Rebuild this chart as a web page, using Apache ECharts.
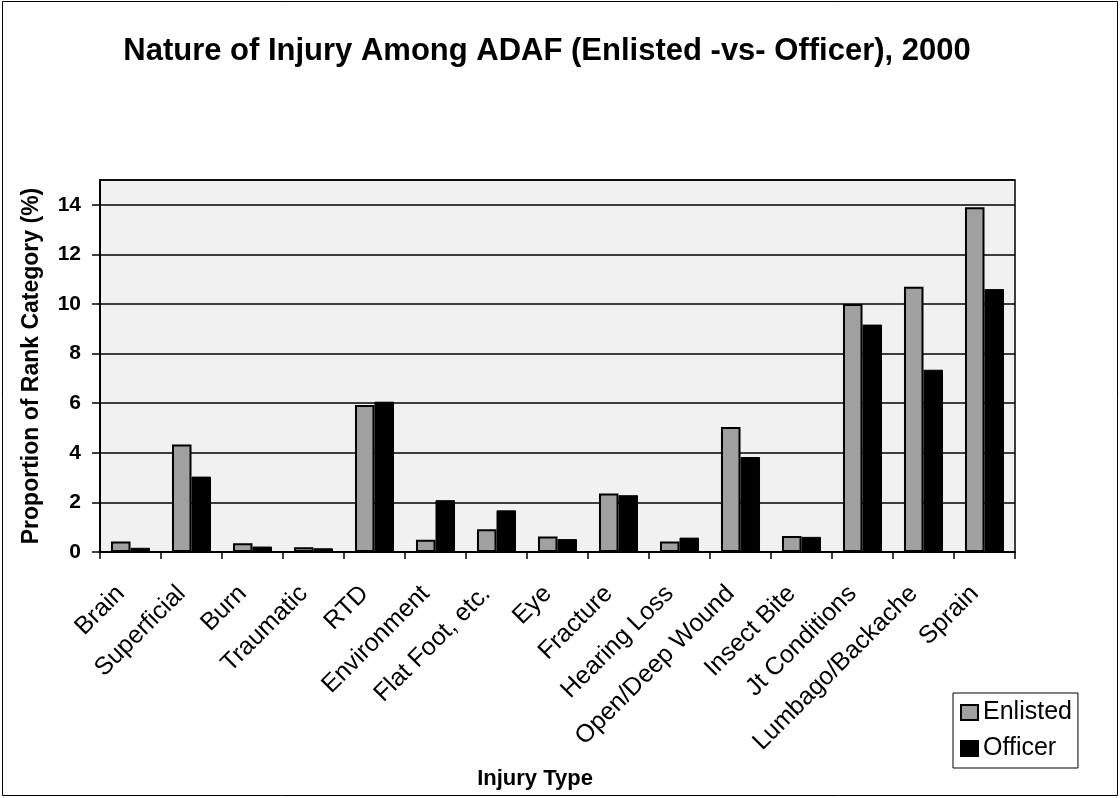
<!DOCTYPE html>
<html>
<head>
<meta charset="utf-8">
<script src="https://cdn.jsdelivr.net/npm/echarts@6/dist/echarts.min.js"></script>
<style>
html,body{margin:0;padding:0;background:#fff;}
#chart{width:1120px;height:798px;}
</style>
</head>
<body>
<div id="chart"></div>
<script>
const categories = ["Brain","Superficial","Burn","Traumatic","RTD","Environment","Flat Foot, etc.","Eye","Fracture","Hearing Loss","Open/Deep Wound","Insect Bite","Jt Conditions","Lumbago/Backache","Sprain"];
const enlisted = [0.42,4.33,0.35,0.19,5.93,0.49,0.92,0.62,2.36,0.42,5.04,0.65,10.0,10.7,13.9];
const officer  = [0.17,3.04,0.22,0.15,6.06,2.09,1.68,0.52,2.29,0.58,3.83,0.61,9.17,7.35,10.6];
const seriesNames = ["Enlisted","Officer"];
const chartTitle = "Nature of Injury Among ADAF (Enlisted -vs- Officer), 2000";
const xTitle = "Injury Type";
const yTitle = "Proportion of Rank Category (%)";

const FONT = "'Liberation Sans', Arial, sans-serif";
const chart = echarts.init(document.getElementById('chart'), null, {renderer:'canvas'});
chart.setOption({
  backgroundColor: '#ffffff',
  animation: false,
  title: [
    {text: chartTitle, left: 542, top: 31, textAlign: 'center',
     textStyle: {fontFamily: FONT, fontWeight: 'bold', fontSize: 31, color: '#000'}},
    {text: xTitle, left: 530, top: 763, textAlign: 'center',
     textStyle: {fontFamily: FONT, fontWeight: 'bold', fontSize: 22, color: '#000'}}
  ],
  graphic: [
    {type: 'rect', shape: {x: 2.5, y: 1.5, width: 1115, height: 794},
     style: {fill: 'none', stroke: '#000', lineWidth: 1}, silent: true, z: 100}
  ],
  legend: {
    orient: 'vertical', left: 953, top: 693,
    data: seriesNames,
    icon: 'rect', itemWidth: 17, itemHeight: 15, itemGap: 11,
    padding: [7, 6, 7, 7],
    borderColor: '#000', borderWidth: 1, backgroundColor: '#fff',
    textStyle: {fontFamily: FONT, fontSize: 25, color: '#000'}
  },
  grid: {left: 100, right: 105, top: 180, bottom: 246, show: true,
         backgroundColor: '#f1f1f1', borderColor: '#000', borderWidth: 1.5, containLabel: false},
  xAxis: {
    type: 'category', data: categories,
    axisLine: {lineStyle: {color: '#000', width: 2}},
    axisTick: {show: true, alignWithLabel: false, length: 7, lineStyle: {color: '#000', width: 1.5}},
    axisLabel: {rotate: 45, interval: 0, margin: 28, padding: [0, 14, 0, 0],
                fontFamily: FONT, fontSize: 25, color: '#000'}
  },
  yAxis: {
    type: 'value', min: 0, max: 15, interval: 2,
    name: yTitle, nameLocation: 'middle', nameGap: 57,
    nameTextStyle: {fontFamily: FONT, fontWeight: 'bold', fontSize: 23, color: '#000'},
    axisLine: {show: true, lineStyle: {color: '#000', width: 2}},
    axisTick: {show: true, length: 8, lineStyle: {color: '#000', width: 1.5}},
    axisLabel: {showMaxLabel: false, margin: 19, fontFamily: FONT, fontWeight: 'bold', fontSize: 21, color: '#000'},
    splitLine: {show: true, lineStyle: {color: '#000', width: 1.5}}
  },
  series: [
    {name: seriesNames[0], type: 'bar', data: enlisted, barGap: '0%', barCategoryGap: '36%',
     itemStyle: {color: '#a0a0a0', borderColor: '#000', borderWidth: 2}},
    {name: seriesNames[1], type: 'bar', data: officer,
     itemStyle: {color: '#000', borderColor: '#000', borderWidth: 1}}
  ]
});
</script>
</body>
</html>
